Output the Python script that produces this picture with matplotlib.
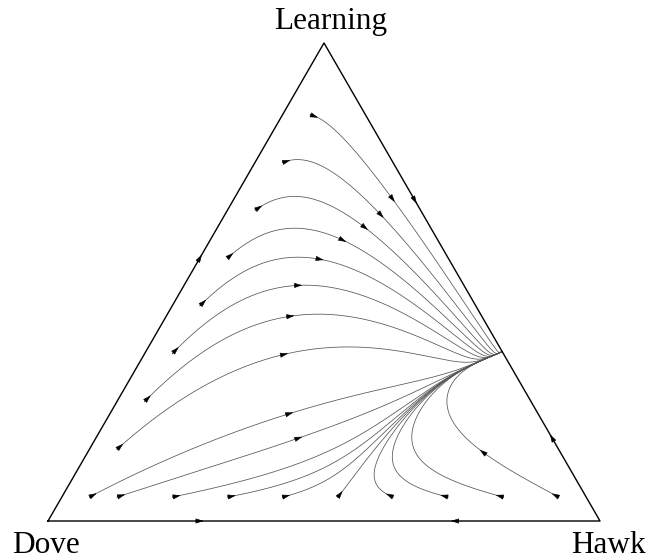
import numpy as np
import matplotlib.pyplot as plt

# replicator dynamics for Dove / Hawk / Learning
# payoff matrix (rows and columns: Dove, Hawk, Learning), diagonal normalised to 0
payoff = np.array([
    [0.00, 1.00, -0.45],
    [1.00, 0.00, 1.55],
    [0.93, 0.85, 0.00],
])

# initial conditions (shares of Hawk and Learning)
left_hawk = [0.05, 0.05, 0.05, 0.05, 0.05, 0.05, 0.05, 0.05]
left_learn = [0.15, 0.25, 0.35, 0.45, 0.55, 0.65, 0.75, 0.85]
bottom_hawk = [0.05, 0.1, 0.2, 0.3, 0.4, 0.5, 0.6, 0.7, 0.8, 0.9]
bottom_learn = [0.05, 0.05, 0.05, 0.05, 0.05, 0.05, 0.05, 0.05, 0.05, 0.05]
# which curves carry a second arrowhead
left_mid = [True, True, True, True, True, True, True, True]
bottom_mid = [True, True, False, False, False, False, False, False, False, True]

# arrows on the edges: (hawk share, learning share)
edge_hawk = [0.0, 0.275, 0.737, 0.329, 0.826]
edge_learn = [0.55, 0.0, 0.0, 0.671, 0.174]

T_END = 80.0
DT = 0.02


def flow(x):
    f = payoff @ x
    return x * (f - x @ f)


def solve(x0):
    x = np.array(x0, dtype=float)
    out = [x.copy()]
    for _ in range(int(T_END / DT)):
        k1 = flow(x)
        k2 = flow(x + DT / 2 * k1)
        k3 = flow(x + DT / 2 * k2)
        k4 = flow(x + DT * k3)
        x = x + DT / 6 * (k1 + 2 * k2 + 2 * k3 + k4)
        out.append(x.copy())
    return np.array(out)


def to_xy(x):
    x = np.atleast_2d(x)
    return x[:, 1] + x[:, 2] / 2, x[:, 2] * np.sqrt(3) / 2


def arrow(ax, p0, p1):
    ax.annotate('', xy=p1, xytext=p0,
                arrowprops=dict(arrowstyle='-|>,head_length=0.45,head_width=0.14',
                                mutation_scale=11, color='black', lw=0.4,
                                shrinkA=0, shrinkB=0))


fig = plt.figure(figsize=(6.54, 5.6), dpi=100)
ax = fig.add_axes([0, 0, 1, 1])
ax.set_xlim(-48 / 552, 606 / 552)
ax.set_ylim(-39 / 552, 521 / 552)
ax.axis('off')

starts = list(zip(left_hawk, left_learn, left_mid)) + \
    list(zip(bottom_hawk, bottom_learn, bottom_mid))
for h, l, mid in starts:
    traj = solve([1 - h - l, h, l])
    xs, ys = to_xy(traj)
    ax.plot(xs, ys, color='#555555', lw=0.55)
    s = np.concatenate([[0], np.cumsum(np.hypot(np.diff(xs), np.diff(ys)))])
    # arrow just after the start
    i = np.argmax(s > 0.014)
    arrow(ax, (xs[0], ys[0]), (xs[i], ys[i]))
    if mid:
        iend = np.argmax(np.hypot(xs - xs[-1], ys - ys[-1]) < 0.005)
        stot = s[iend]
        j = np.argmax(s >= max(stot - 0.39, 0.4 * stot))
        arrow(ax, (xs[j - 2], ys[j - 2]), (xs[j], ys[j]))

# edges of the simplex
corners_x, corners_y = to_xy(np.eye(3))
ax.plot(list(corners_x) + [corners_x[0]], list(corners_y) + [corners_y[0]],
        color='black', lw=1.0)

for h, l in zip(edge_hawk, edge_learn):
    x = np.array([1 - h - l, h, l])
    v = flow(x)
    v = v / np.linalg.norm(v) * 0.01
    x0, y0 = to_xy(x - v)
    x1, y1 = to_xy(x + v)
    arrow(ax, (x0[0], y0[0]), (x1[0], y1[0]))

font = dict(family='Liberation Serif', fontsize=22.5)
ax.text(0.5127, 0.891, 'Learning', ha='center', va='baseline', **font)
ax.text(-0.0036, -0.0580, 'Dove', ha='center', va='baseline', **font)
ax.text(1.015, -0.0580, 'Hawk', ha='center', va='baseline', **font)

fig.savefig('out.png', dpi=100)
